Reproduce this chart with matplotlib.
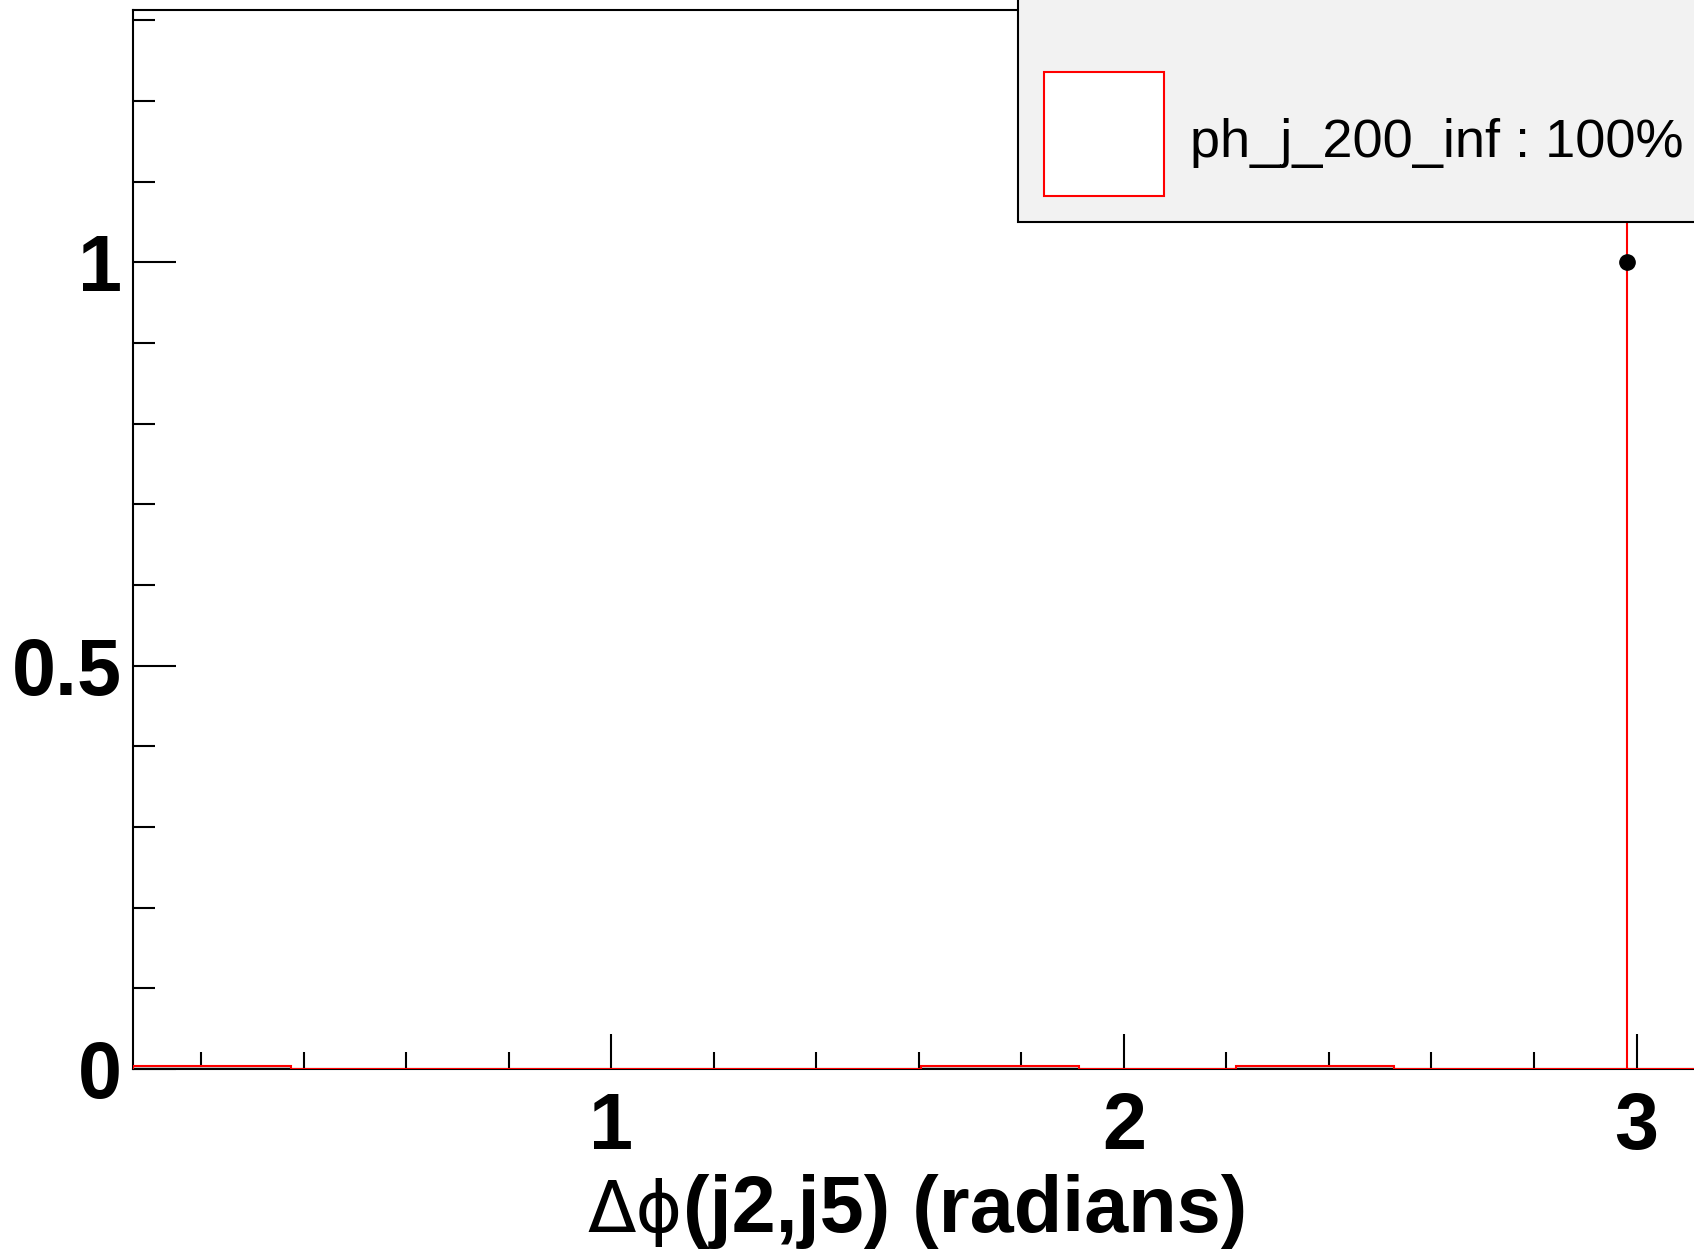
import numpy as np
import matplotlib.pyplot as plt
from matplotlib.patches import Rectangle
from matplotlib.ticker import MultipleLocator

# histogram content (10 bins over the plotted range)
x_lo, x_hi = 0.0666, np.pi
bin_vals = [0.004, 0.0, 0.0, 0.0, 0.0, 0.004, 0.0, 0.004, 0.0, 0.0]
# single entry drawn as marker with red line
spike_x = 2.981
spike_y = 1.0
legend_label = "ph_j_200_inf : 100%"
y_top = 1.313

plt.rcParams['font.family'] = ['Liberation Sans', 'DejaVu Sans']

fig = plt.figure(figsize=(16.94, 12.51), dpi=100)
ax = fig.add_axes([133 / 1694, 1 - 1069 / 1251, 1.0089 - 133 / 1694, (1069 - 10) / 1251])

edges = np.linspace(x_lo, x_hi, len(bin_vals) + 1)
ax.stairs(bin_vals, edges, fill=True, color='#c8c8c8', zorder=2)
ax.stairs(bin_vals, edges, color='red', lw=1.5, zorder=3)
ax.vlines(spike_x, 0, y_top, color='red', lw=1.5, zorder=3)
ax.plot([spike_x], [spike_y], 'o', color='black', ms=11, zorder=4)

ax.set_xlim(x_lo, x_hi)
ax.set_ylim(0, y_top)
ax.xaxis.set_major_locator(MultipleLocator(1))
ax.xaxis.set_minor_locator(MultipleLocator(0.2))
ax.yaxis.set_major_locator(MultipleLocator(0.5))
ax.yaxis.set_minor_locator(MultipleLocator(0.1))
ax.xaxis.set_major_formatter(plt.FuncFormatter(lambda v, p: f"{v:g}"))
ax.yaxis.set_major_formatter(plt.FuncFormatter(lambda v, p: f"{v:g}"))

ax.tick_params(axis='both', which='both', direction='in', width=1.5, colors='black')
ax.tick_params(axis='x', which='major', length=25, pad=16, labelsize=57)
ax.tick_params(axis='x', which='minor', length=12)
ax.tick_params(axis='y', which='major', length=31, pad=8, labelsize=57)
ax.tick_params(axis='y', which='minor', length=16)
for lab in ax.get_xticklabels() + ax.get_yticklabels():
    lab.set_fontweight('bold')
for sp in ax.spines.values():
    sp.set_linewidth(1.5)

# x axis title: greek part regular, rest bold
fig.text(683 / 1694, 1 - 1232 / 1251, "Δϕ", ha='right', va='baseline', fontsize=51,
         family=['DejaVu Sans'])
fig.text(683 / 1694, 1 - 1232 / 1251, "(j2,j5) (radians)", ha='left', va='baseline',
         fontsize=57, fontweight='bold')

# legend box
fig.patches.append(Rectangle((1018 / 1694, 1 - 221.5 / 1251), 0.5, 0.5,
                             transform=fig.transFigure, facecolor='#f2f2f2',
                             edgecolor='black', lw=1.5, zorder=10))
fig.patches.append(Rectangle((1044 / 1694, 1 - 196 / 1251), 120 / 1694, 124 / 1251,
                             transform=fig.transFigure, facecolor='white',
                             edgecolor='red', lw=1.5, zorder=11))
fig.text(1190 / 1694, 1 - 157 / 1251, legend_label, ha='left', va='baseline',
         fontsize=39, zorder=12)

fig.savefig('out.png', dpi=100)
